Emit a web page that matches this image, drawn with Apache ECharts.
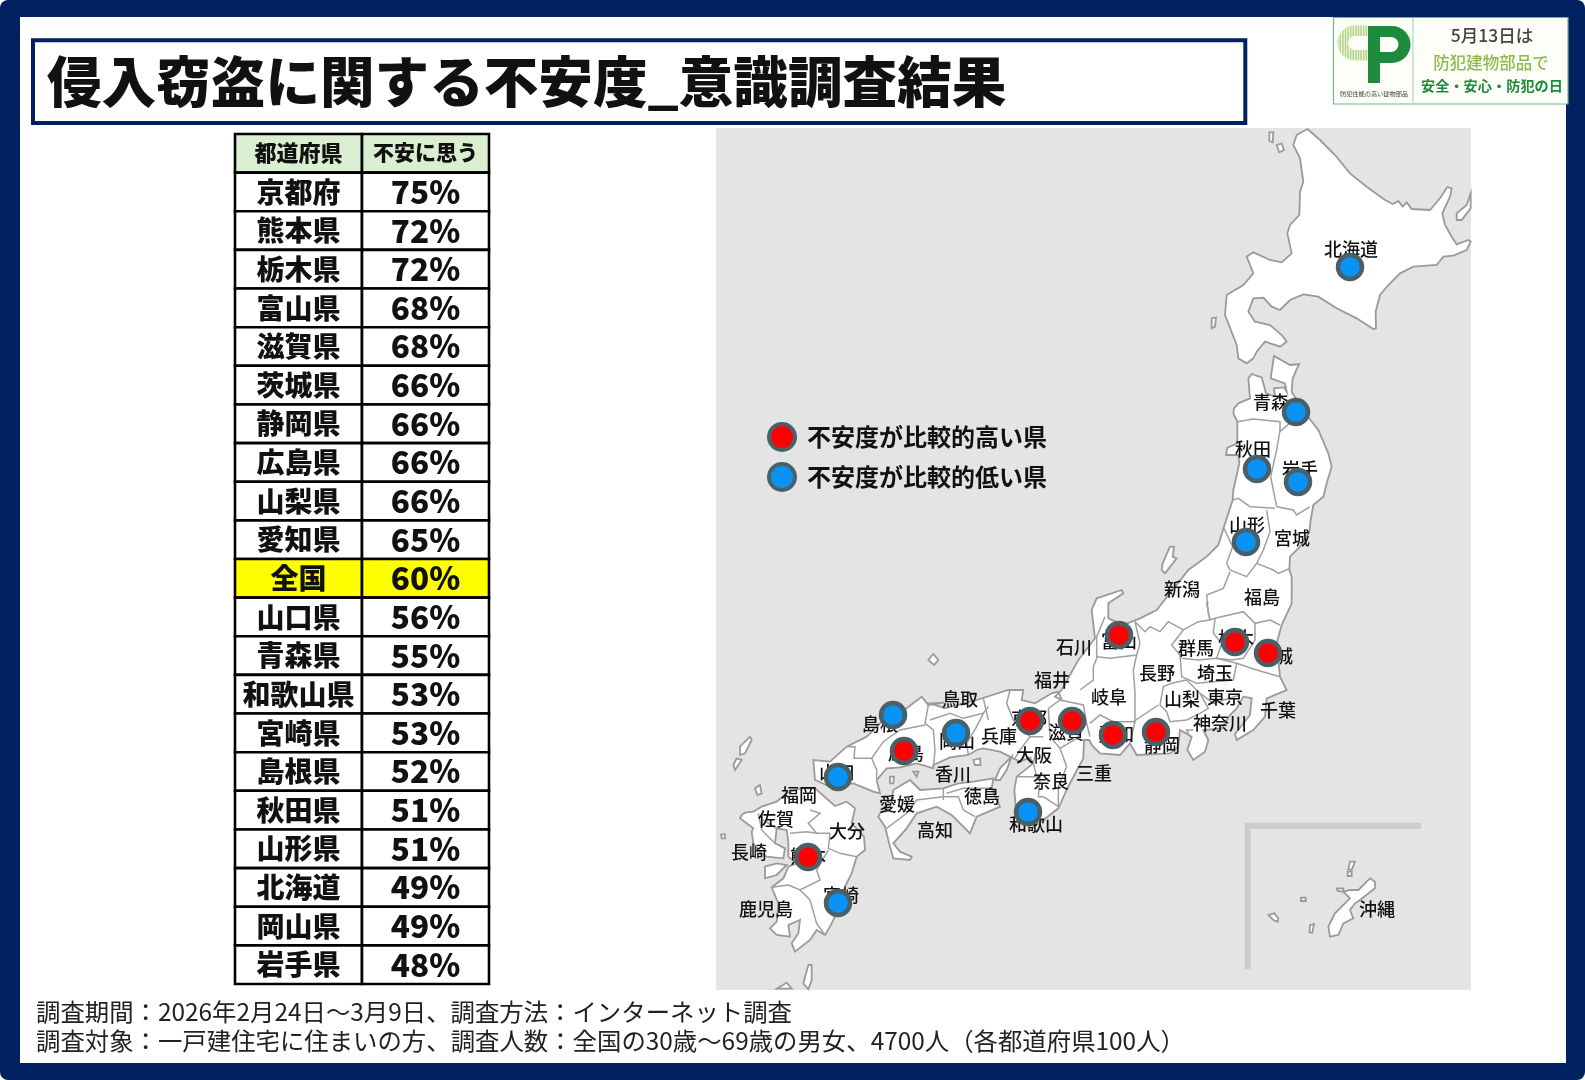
<!DOCTYPE html>
<html><head><meta charset="utf-8">
<style>html,body{margin:0;padding:0;background:#fff}#c{width:1585px;height:1080px}</style>
<script src="https://cdn.jsdelivr.net/npm/echarts@6/dist/echarts.min.js"></script>
</head><body><div id="c"></div>
<script>
// ---------- data ----------
const titleText = '侵入窃盗に関する不安度_意識調査結果';
const tableHeader = ['都道府県', '不安に思う'];
const tablePrefs = ['京都府','熊本県','栃木県','富山県','滋賀県','茨城県','静岡県','広島県','山梨県','愛知県','全国','山口県','青森県','和歌山県','宮崎県','島根県','秋田県','山形県','北海道','岡山県','岩手県'];
const tablePcts = ['75%','72%','72%','68%','68%','66%','66%','66%','66%','65%','60%','56%','55%','53%','53%','52%','51%','51%','49%','49%','48%'];
const highName = '不安度が比較的高い県';
const lowName = '不安度が比較的低い県';
const highPrefs = [['富山',1119,635],['栃木',1235,642],['茨城',1268,653],['静岡',1156,732],['愛知',1113,735],['滋賀',1072,721],['京都',1030,721],['広島',904,751],['熊本',808,857]];
const lowPrefs = [['北海道',1350,267],['青森',1296,412],['秋田',1257,469],['岩手',1298,482],['山形',1246,542],['岡山',956,733],['和歌山',1028,812],['島根',893,715],['山口',838,777],['宮崎',838,903]];
const prefLabels = [['北海道',1351,249],['青森',1271,402],['秋田',1253,449],['岩手',1300,469],['山形',1247,525],['宮城',1292,538],['新潟',1182,589],['福島',1262,597],['栃木',1236,638],['群馬',1196,648],['茨城',1275,656],['長野',1157,673],['埼玉',1215,673],['山梨',1182,699],['東京',1225,697],['千葉',1278,710],['神奈川',1220,723],['富山',1119,641],['静岡',1162,745],['石川',1074,647],['福井',1052,680],['岐阜',1109,697],['鳥取',960,699],['京都',1029,718],['滋賀',1066,732],['愛知',1116,734],['兵庫',999,736],['島根',880,724],['岡山',957,741],['大阪',1034,755],['広島',906,753],['三重',1094,773],['奈良',1051,781],['香川',953,774],['山口',837,772],['徳島',982,796],['福岡',799,795],['愛媛',897,804],['佐賀',776,819],['和歌山',1036,824],['大分',847,831],['高知',935,830],['長崎',749,852],['熊本',808,856],['宮崎',841,895],['鹿児島',766,909],['沖縄',1377,909]];
const footer1 = '調査期間：2026年2月24日～3月9日、調査方法：インターネット調査';
const footer2 = '調査対象：一戸建住宅に住まいの方、調査人数：全国の30歳～69歳の男女、4700人（各都道府県100人）';

// ---------- map outlines (traced in reference space) ----------
const seg = (ox, oy, pts) => pts.map(p => [ox + p[0] / 3, oy + p[1] / 3]);
const Z3=[710,580],Z4=[1100,350],Z6=[1210,125],Z7=[1150,350],Z8=[1080,580],Z9=[920,680],Z10=[720,680],Z11=[720,800],Z12=[1235,810];
const S = (z, pts) => seg(z[0], z[1], pts);
const land = {
 hokkaido: S(Z6,[[292,12],[330,45],[375,90],[420,145],[470,185],[525,225],[548,237],[565,228],[578,245],[590,232],[605,252],[660,255],[690,220],[712,186],[725,190],[720,215],[697,265],[705,300],[725,335],[740,358],[775,345],[782,350],[770,375],[730,392],[700,395],[680,420],[610,425],[570,445],[535,480],[510,510],[497,560],[498,610],[490,612],[440,580],[380,550],[325,515],[280,508],[240,525],[210,555],[185,545],[160,518],[130,520],[115,560],[135,590],[180,600],[215,630],[230,650],[210,665],[165,650],[140,680],[130,700],[110,715],[85,700],[80,660],[55,595],[45,570],[50,510],[100,480],[130,445],[110,395],[130,382],[180,405],[215,412],[245,385],[232,325],[240,300],[268,270],[270,200],[280,170],[270,100],[250,60],[260,30]]),
 honshu: [
  ...S(Z7,[[252,175],[265,160],[300,145],[295,85],[305,72],[335,82],[348,130],[375,140],[372,115],[402,112],[410,125],[405,100],[362,85],[372,18],[420,45],[447,42],[428,85],[425,125],[440,150],[470,195],[505,240],[535,310],[545,350],[530,400],[520,440],[490,465],[482,510],[478,545],[450,590],[420,620],[418,660]]),
  ...S(Z4,[[575,680],[575,760],[545,825],[530,880]]),
  ...S(Z8,[[590,190],[600,290],[620,330],[560,355],[555,410],[520,450],[470,480],[465,462],[510,405],[515,355],[490,350],[470,385],[450,405],[425,445],[370,450],[385,480],[375,515],[340,540],[322,510],[335,470],[300,450],[295,500],[270,520],[170,525],[150,490],[120,525],[60,520],[35,495],[28,480],[12,480]]),
  ...S(Z9,[[495,180],[490,235],[455,300],[440,330],[415,385],[370,420],[335,445],[290,410],[283,330],[290,290],[340,250],[330,232],[300,245],[280,235],[240,215],[190,205],[170,210],[145,225],[90,232],[40,255]]),
  ...S(Z10,[[640,265],[590,250],[540,262],[500,265],[470,300],[480,340],[460,335],[400,310],[330,320],[285,300],[280,240],[330,245],[380,200],[440,170],[490,120],[540,100],[605,50],[625,75],[672,68]]),
  ...S(Z9,[[30,70],[75,85],[170,60],[265,30],[310,30],[305,60],[345,70],[395,40],[415,35],[425,60]]),
  ...S(Z3,[[1035,350],[1055,330],[1105,240],[1155,175],[1145,90],[1160,55],[1235,30],[1240,40],[1195,70],[1195,115],[1240,135],[1290,115],[1340,90]]),
  ...S(Z7,[[115,660],[170,620],[205,585],[222,530],[248,450],[250,420],[268,340],[265,315],[228,315],[232,293],[262,280],[262,215],[250,190]])
 ],
 shikoku: S(Z3,[[510,700],[540,680],[550,630],[600,600],[630,630],[700,625],[745,610],[790,605],[850,595],[845,625],[870,680],[800,710],[780,760],[725,705],[680,680],[620,700],[590,745],[550,790],[570,815],[605,830],[600,840],[550,835],[540,800],[525,740],[505,710]]),
 kyushu: [
  ...S(Z10,[[285,325],[345,378],[380,365],[405,385],[395,430],[432,470]]),
  ...S(Z11,[[435,150],[410,170],[395,220],[375,260],[355,330],[330,380],[315,405],[290,390],[270,420],[225,455],[215,430],[235,400],[240,360],[205,375],[210,410],[170,405],[150,385],[170,365],[175,310],[155,262],[190,235],[205,200],[230,190],[205,170],[205,125],[200,90],[170,85],[165,130],[195,145],[190,175],[140,170],[125,160],[100,130],[95,95],[100,85],[60,55],[65,45],[75,38]]),
  ...S(Z10,[[100,395],[125,380],[170,365],[200,340],[240,325]])
 ],
 amakusa: S(Z11,[[135,200],[170,190],[200,195],[170,225],[135,235]]),
 awaji: S(Z9,[[225,300],[240,265],[275,230],[260,270],[240,300]]),
 sado: S(Z7,[[38,640],[60,590],[72,590],[68,620],[80,625],[45,670],[35,660]]),
 rishiri: S(Z6,[[178,22],[190,22],[188,52],[178,48]]),
 rebun: S(Z6,[[200,60],[215,55],[222,75],[208,82]]),
 kunashiri: S(Z6,[[782,205],[770,240],[740,265],[740,285],[755,285],[782,250]]),
 okushiri: S(Z6,[[5,580],[18,578],[15,605],[5,610]]),
 oki: S(Z3,[[655,240],[670,222],[685,240],[672,255]]),
 tsushima1: S(Z10,[[60,200],[90,170],[95,180],[75,220],[60,225]]),
 tsushima2: S(Z10,[[40,255],[50,235],[65,240],[45,270]]),
 iki: S(Z10,[[105,325],[120,315],[125,340],[112,345]]),
 goto: S(Z11,[[3,103],[15,103],[15,115],[5,115]]),
 isle1: S(Z10,[[510,290],[522,290],[520,310],[510,310]]),
 isle2: S(Z10,[[580,275],[595,275],[590,290]]),
 shodo: S(Z9,[[160,240],[180,235],[182,255],[165,255]]),
 yaku: S(Z11,[[250,550],[265,495],[275,495],[275,540],[265,568]]),
 tane: S(Z11,[[170,566],[200,548],[215,566]]),
 okinawa: S(Z12,[[405,205],[420,215],[420,235],[375,270],[360,280],[345,300],[355,325],[325,340],[310,375],[285,380],[280,350],[300,310],[320,290],[345,265],[325,245],[345,240],[370,240]]),
 oki2: S(Z12,[[305,235],[325,235],[325,245],[308,243]]),
 oki3: S(Z12,[[345,155],[360,155],[350,180],[340,178]]),
 oki4: S(Z12,[[338,185],[350,185],[350,198],[338,198]]),
 oki5: S(Z12,[[198,263],[212,263],[212,273],[198,273]]),
 oki6: S(Z12,[[100,315],[118,310],[130,325],[128,335],[115,330]]),
 oki7: S(Z12,[[225,345],[237,342],[232,368],[224,368]])
};
const borders = [
 S(Z7,[[262,215],[310,207],[390,215],[390,245],[425,215],[470,195]]),
 S(Z7,[[390,240],[380,300],[362,380],[380,470]]),
 S(Z7,[[248,450],[265,445],[300,470],[375,475]]),
 S(Z7,[[380,470],[430,480],[440,495],[480,470]]),
 S(Z7,[[350,480],[360,545],[340,600],[320,640]]),
 S(Z7,[[222,535],[248,590],[230,640]]),
 S(Z7,[[230,640],[240,660],[290,680],[320,640]]),
 S(Z7,[[320,640],[370,660],[385,670],[420,655]]),
 S(Z7,[[240,665],[220,715],[170,735],[175,790],[180,810]]),
 S(Z8,[[385,65],[380,70],[390,120],[405,115],[490,95],[525,130],[570,120],[600,135]]),
 S(Z8,[[405,115],[400,160],[425,190],[410,235],[455,240],[490,235],[525,180],[525,130]]),
 S(Z8,[[390,120],[355,125],[310,150],[265,125],[240,155],[210,140],[195,155],[165,125]]),
 S(Z8,[[165,125],[180,190],[170,225],[90,235],[50,230]]),
 S(Z8,[[75,110],[50,170],[50,235],[40,260],[40,300],[0,330]]),
 S(Z8,[[310,150],[275,195],[300,225],[305,290],[350,310],[460,300],[470,250],[410,235],[355,240],[305,235]]),
 S(Z8,[[470,250],[530,270],[600,290]]),
 S(Z8,[[360,340],[400,370],[480,345]]),
 S(Z8,[[320,300],[275,310],[250,320],[240,375],[260,395],[270,425],[320,420],[360,400],[385,385],[360,340],[320,300]]),
 S(Z8,[[160,425],[235,375]]),
 S(Z8,[[150,490],[165,425],[100,425],[60,405],[30,430]]),
 S(Z8,[[170,225],[160,270],[165,340],[165,425]]),
 S(Z8,[[340,450],[320,450],[330,470]]),
 S(Z9,[[385,85],[420,60],[490,75],[500,130],[470,175],[420,205],[390,170],[385,85]]),
 S(Z9,[[500,130],[510,170]]),
 S(Z9,[[420,205],[440,260],[415,320],[415,380]]),
 S(Z9,[[370,350],[415,380]]),
 S(Z9,[[290,290],[360,290],[355,350],[370,350]]),
 S(Z9,[[350,200],[340,250],[350,290]]),
 S(Z9,[[270,30],[260,70],[280,120],[330,170],[370,170]]),
 S(Z9,[[330,170],[300,210],[285,235]]),
 S(Z9,[[205,80],[190,100],[170,140],[140,190],[145,225]]),
 S(Z9,[[190,55],[205,120]]),
 S(Z9,[[30,120],[90,100],[130,115],[190,100]]),
 S(Z10,[[625,75],[615,130],[640,150],[645,210],[640,265]]),
 S(Z10,[[615,135],[540,150],[490,185],[455,235],[470,270],[470,300]]),
 S(Z10,[[380,200],[405,200],[402,235],[455,235]]),
 S(Z3,[[700,625],[700,660]]),
 S(Z3,[[850,625],[760,625],[710,640]]),
 S(Z3,[[530,745],[590,700],[620,660],[700,650],[745,650],[760,690],[795,710]]),
 S(Z11,[[270,30],[300,40],[265,70],[290,100]]),
 S(Z11,[[330,100],[325,145],[360,160],[410,170]]),
 S(Z11,[[210,100],[260,95],[290,100],[330,100]]),
 S(Z11,[[130,60],[170,85]]),
 S(Z11,[[115,40],[125,90],[165,130]]),
 S(Z11,[[325,150],[290,210],[300,240],[240,270],[205,255],[155,262]]),
 S(Z11,[[240,270],[270,300],[290,370],[315,405]])
];
const insetLines = [S(Z12,[[558,47],[38,47],[38,478]])];

const seaRing = [[716,128],[1471,128],[1471,990],[716,990]];
const feature = (name, ring) => ({type:'Feature',properties:{name},geometry:{type:'Polygon',coordinates:[[...ring, ring[0]]]}});
const japan = {type:'FeatureCollection',features:[feature('sea',seaRing),...Object.keys(land).map(k=>feature(k,land[k]))]};
echarts.registerMap('japan', japan);

// ---------- chart ----------
const FONT = '"Noto Sans CJK JP","Noto Sans",sans-serif';
const NAVY = '#002060';
const chart = echarts.init(document.getElementById('c'), null, {renderer:'canvas', width:1585, height:1080});

const rows = [tableHeader, ...tablePrefs.map((p,i)=>[p, tablePcts[i]])];
const tableData = [];
rows.forEach((r,ri)=>r.forEach((t,ci)=>tableData.push([ci,ri,t])));

const RING = '#4A6068';
const dotStyle = c => ({color:c, borderColor:RING, borderWidth:4.5, opacity:1});
const toDots = a => a.map(d=>({name:d[0], value:[d[1],d[2]]}));

const logoStripes = [];
for (let x = 1339; x < 1368; x += 2.6) logoStripes.push({type:'line',shape:{x1:x,y1:24,x2:x,y2:62},style:{stroke:'#FDFEF8',lineWidth:0.9},z:3,silent:true});
const GREEN='#1E8A3C', PAPER='#FDFEF8';

chart.setOption({
 animation:false,
 backgroundColor:'#fff',
 title:{text:titleText,left:47,top:49,padding:0,textStyle:{fontFamily:FONT,fontSize:54.6,fontWeight:900,color:'#111',lineHeight:64}},
 legend:{show:true,left:767,top:422,orient:'vertical',itemWidth:26,itemHeight:26,itemGap:10,padding:0,selectedMode:false,icon:'circle',
  itemStyle:{borderWidth:4,borderColor:RING},
  data:[highName,lowName],textStyle:{fontFamily:FONT,fontSize:24,fontWeight:700,color:'#111',padding:[0,0,0,7]}},
 grid:{left:235,top:134,width:254,height:850,containLabel:false},
 xAxis:{type:'category',data:[0,1],show:false},
 yAxis:{type:'category',inverse:true,data:rows.map((r,i)=>i),show:false},
 geo:{map:'japan',silent:true,roam:false,left:716,top:128,width:755,height:862,aspectScale:1,
  projection:{project:p=>[p[0],p[1]],unproject:p=>[p[0],p[1]]},
  label:{show:false},emphasis:{disabled:true},select:{disabled:true},
  itemStyle:{areaColor:'#fff',borderColor:'#9A9A9A',borderWidth:1.8},
  regions:[{name:'sea',itemStyle:{areaColor:'#E4E4E4',borderColor:'#E4E4E4',borderWidth:0}}],z:1},
 series:[
  {type:'custom',coordinateSystem:'cartesian2d',silent:true,z:2,data:tableData.map(d=>[d[0],d[1]]),
   encode:{x:0,y:1},
   renderItem:(params,api)=>{
     const c=api.value(0), r=api.value(1), t=tableData[params.dataIndex][2];
     const p=api.coord([c,r]), s=api.size([1,1]);
     const fill = r===0 ? '#DAEFD0' : (rows[r][0]==='全国' ? '#FFFF00' : '#fff');
     const fs = r===0 ? (c===0?22:21) : (c===0?28:31.5);
     return {type:'group',children:[
      {type:'rect',shape:{x:p[0]-s[0]/2,y:p[1]-s[1]/2,width:s[0],height:s[1]},style:{fill,stroke:'#000',lineWidth:2.6}},
      {type:'text',style:{x:p[0],y:p[1]-(r===0?1:0),text:t,align:'center',verticalAlign:'middle',fontFamily:FONT,fontSize:fs,fontWeight:900,fill:'#111'}}
     ]};
   }},
  {type:'lines',coordinateSystem:'geo',polyline:true,silent:true,z:2,data:borders.map(b=>({coords:b})),lineStyle:{color:'#A0A0A0',width:1.5,opacity:1}},
  {type:'lines',coordinateSystem:'geo',polyline:true,silent:true,z:2,data:insetLines.map(b=>({coords:b})),lineStyle:{color:'#CCCCCC',width:6,opacity:1}},
  {type:'scatter',name:'prefLabels',coordinateSystem:'geo',silent:true,z:3,symbolSize:1,itemStyle:{color:'transparent'},
   data:prefLabels.map(d=>({name:d[0],value:[d[1],d[2]]})),
   label:{show:true,position:'inside',formatter:'{b}',fontFamily:FONT,fontSize:18,fontWeight:500,color:'#111',opacity:1},labelLayout:{hideOverlap:false}},
  {type:'scatter',name:highName,coordinateSystem:'geo',silent:true,z:5,symbol:'circle',symbolSize:24,itemStyle:dotStyle('#FF0000'),data:toDots(highPrefs)},
  {type:'scatter',name:lowName,coordinateSystem:'geo',silent:true,z:5,symbol:'circle',symbolSize:24,itemStyle:dotStyle('#0A93F7'),data:toDots(lowPrefs)}
 ],
 graphic:{elements:[
  {type:'rect',z:-20,silent:true,shape:{x:0,y:0,width:1585,height:1080,r:8},style:{fill:NAVY}},
  {type:'rect',z:-19,silent:true,shape:{x:20,y:17,width:1546,height:1046},style:{fill:'#fff'}},
  {type:'rect',z:-18,silent:true,shape:{x:33,y:40.3,width:1212.3,height:82.7},style:{fill:'#fff',stroke:NAVY,lineWidth:4}},
  {type:'text',z:6,silent:true,style:{x:36,y:1012,text:footer1,fontFamily:FONT,fontSize:24.4,fill:'#222',verticalAlign:'middle'}},
  {type:'text',z:6,silent:true,style:{x:36,y:1041,text:footer2,fontFamily:FONT,fontSize:24.4,fill:'#222',verticalAlign:'middle'}},
  // badge
  {type:'rect',z:2,silent:true,shape:{x:1333.5,y:17.5,width:234.5,height:86.5},style:{fill:PAPER,stroke:'#6FB58C',lineWidth:1.2}},
  {type:'line',z:2,silent:true,shape:{x1:1413,y1:18,x2:1413,y2:104},style:{stroke:'#BFDCCB',lineWidth:1.5}},
  {type:'sector',z:2,silent:true,shape:{cx:1355,cy:43,r0:7,r:17.5,startAngle:Math.PI/2,endAngle:Math.PI*1.5},style:{fill:'#B5D48A'}},
  {type:'rect',z:2,silent:true,shape:{x:1355,y:25.5,width:13,height:10.5},style:{fill:'#B5D48A'}},
  {type:'rect',z:2,silent:true,shape:{x:1355,y:50,width:13,height:10.5},style:{fill:'#B5D48A'}},
  ...logoStripes,
  {type:'rect',z:4,silent:true,shape:{x:1368,y:26,width:24,height:37},style:{fill:GREEN}},
  {type:'sector',z:4,silent:true,shape:{cx:1392,cy:44.5,r0:0,r:18.5,startAngle:-Math.PI/2,endAngle:Math.PI/2},style:{fill:GREEN}},
  {type:'rect',z:4,silent:true,shape:{x:1368,y:63,width:12,height:20},style:{fill:GREEN}},
  {type:'rect',z:5,silent:true,shape:{x:1380,y:37,width:11,height:15},style:{fill:PAPER}},
  {type:'sector',z:5,silent:true,shape:{cx:1391,cy:44.5,r0:0,r:7.5,startAngle:-Math.PI/2,endAngle:Math.PI/2},style:{fill:PAPER}},
  {type:'text',z:4,silent:true,style:{x:1374,y:94,text:'防犯性能の高い建物部品',align:'center',verticalAlign:'middle',fontFamily:FONT,fontSize:6.2,fill:'#444'}},
  {type:'text',z:4,silent:true,style:{x:1492,y:35,text:'5月13日は',align:'center',verticalAlign:'middle',fontFamily:FONT,fontSize:17.5,fontWeight:500,fill:'#444'}},
  {type:'text',z:4,silent:true,style:{x:1491,y:63,text:'防犯建物部品で',align:'center',verticalAlign:'middle',fontFamily:FONT,fontSize:16.5,fontWeight:500,fill:'#8DBB4F'}},
  {type:'text',z:4,silent:true,style:{x:1492,y:86,text:'安全・安心・防犯の日',align:'center',verticalAlign:'middle',fontFamily:FONT,fontSize:14.2,fontWeight:700,fill:GREEN}}
 ]}
});
</script></body></html>
